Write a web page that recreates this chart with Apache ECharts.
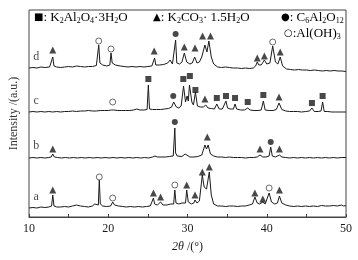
<!DOCTYPE html>
<html>
<head>
<meta charset="utf-8">
<script src="https://cdn.jsdelivr.net/npm/echarts@6/dist/echarts.min.js"></script>
</head>
<body style="margin:0">
<div id="main" style="width:358px;height:260px"></div>
<script>
// XRD patterns, values (offset stacked intensity, arbitrary units)
var curveA = [[10,9],[10.5,9.5],[11,9],[11.5,10],[12,9.5],[12.5,10],[12.85,11],[13,22],[13.15,11],[13.5,10],[14,10],[14.5,10.5],[15,10],[15.5,11],[16,12],[16.5,11],[17,10.5],[17.5,10],[18,11],[18.3,13],[18.5,11],[18.75,12],[18.87,37],[19,13],[19.3,11],[19.8,10.5],[20.3,11],[20.56,15],[20.8,12],[21.3,11],[21.8,10.5],[22.3,10],[22.8,10.5],[23.3,10],[23.8,10.5],[24.3,10],[24.8,10.5],[25.3,11],[25.55,12],[25.7,19],[25.85,13],[26.2,12],[26.6,15],[26.9,12],[27.4,12],[27.9,13],[28.25,13],[28.4,27],[28.55,14],[28.9,13],[29.3,14],[29.75,14],[29.9,27],[30.1,15],[30.5,13],[30.8,14],[30.95,17],[31.2,14],[31.5,16],[31.87,42],[32.1,30],[32.4,28],[32.75,45],[33,22],[33.3,13],[33.8,11],[34.3,11],[34.8,10.5],[35.3,11],[35.8,11],[36.3,10.5],[36.8,11],[37.3,11],[37.8,12],[38.2,13],[38.5,20],[38.8,14],[39.1,13],[39.5,15],[39.8,13],[40.05,14],[40.3,24],[40.6,15],[41,13],[41.35,14],[41.6,21],[41.9,14],[42.4,12],[42.9,11],[43.4,10.5],[43.9,11],[44.4,10.5],[44.9,11],[45.4,10.5],[45.9,11],[46.4,10.5],[46.9,11.5],[47.4,11],[47.9,11],[48.4,11.5],[48.9,11],[49.4,12],[49.7,11],[50,11.5]];
var curveB = [[10,59],[10.5,59.5],[11,59],[11.5,59.5],[12,59],[12.5,59.5],[12.8,60],[13,63],[13.2,60],[13.6,59.5],[14.1,59],[14.6,59.5],[15.1,59],[15.6,59.5],[16.1,59],[16.6,59.5],[17.1,59],[17.6,59.5],[18.1,59],[18.6,59.5],[19.1,59],[19.6,59.5],[20.1,59],[20.6,59.5],[21.1,59],[21.6,59.5],[22.1,59],[22.6,59.5],[23.1,59],[23.6,59.5],[24.1,59],[24.6,59.5],[25.1,59],[25.6,60],[25.9,61],[26.2,60],[26.7,60],[27.2,60],[27.7,60.5],[28.2,61],[28.3,63],[28.4,89],[28.5,64],[28.7,61],[29.3,60.5],[29.55,61],[29.7,63],[29.85,61],[30.3,60],[30.8,60],[31.3,60.5],[31.8,62],[32.2,72],[32.4,68],[32.6,72],[32.9,63],[33.3,61],[33.8,60],[34.3,60],[34.8,59.5],[35.3,60],[35.8,59.5],[36.3,59.5],[36.8,59.5],[37.3,59],[37.8,59.5],[38.3,59.5],[38.8,60],[39.15,62],[39.5,60],[39.9,60],[40.3,61],[40.5,70],[40.7,61],[41.1,60],[41.6,62],[41.9,60],[42.4,59.5],[42.9,59],[43.4,59.5],[43.9,59],[44.4,59.5],[44.9,59],[45.4,59.5],[45.9,59],[46.4,59.5],[46.9,59],[47.4,59.5],[47.9,59],[48.4,59.5],[48.9,59],[49.4,59.5],[50,59.5]];
var curveC = [[10,105],[10.5,105.5],[11,105],[11.5,105.5],[12,105],[12.5,105.5],[13,105],[13.5,105.5],[14,105],[14.5,105.5],[15,105.5],[15.5,106],[16,105.5],[16.5,106],[17,106],[17.5,106.5],[18,106],[18.5,106],[19,106.5],[19.5,106.5],[20,106.5],[20.4,107],[20.56,109],[20.7,107],[21.2,106.5],[21.7,106.5],[22.2,106.5],[22.7,106.5],[23.2,107],[23.6,108],[24,107],[24.5,107],[24.9,107.5],[25.06,132],[25.2,108],[25.6,107.5],[26.1,107.5],[26.6,107.5],[27.1,108],[27.6,108.5],[28,110],[28.25,115],[28.6,110],[28.9,109],[29.2,111],[29.5,131],[29.75,115],[29.95,121],[30.1,116],[30.25,132],[30.55,115],[30.75,112],[31.0,125],[31.25,111],[31.6,110],[32,110],[32.3,112],[32.6,109],[33,108.5],[33.4,108],[33.7,113],[34,108],[34.4,108],[34.65,110],[34.85,116],[35.05,109],[35.4,108],[35.8,108],[36.0,113],[36.2,108],[36.7,107],[37.2,107],[37.6,109],[37.9,107],[38.4,106.5],[38.9,106.5],[39.3,107],[39.57,116],[39.8,107],[40.3,106.5],[40.8,106.5],[41.2,107.5],[41.55,114],[41.9,107.5],[42.4,106],[42.9,105.5],[43.4,105.5],[43.9,105.5],[44.4,105],[44.9,105.5],[45.4,106],[45.7,109],[46,105.5],[46.5,105.5],[46.85,106],[47.05,115],[47.25,105.5],[47.7,105.5],[48.2,105],[48.7,105],[49.2,105],[49.6,105],[50,105]];
var curveD = [[10,149],[10.5,149.5],[11,149],[11.5,150],[12,149.5],[12.6,150],[12.85,151],[13.0,160],[13.15,151],[13.5,150],[14,149.5],[14.5,150],[15,150.5],[15.5,150],[16,151],[16.5,150.5],[17,150],[17.5,150.5],[18,150.5],[18.5,151.5],[18.7,153],[18.8,172],[18.95,154],[19.3,152],[19.8,151],[20.2,152],[20.35,164],[20.5,154],[20.9,152],[21.5,151],[22,150.5],[22.5,150],[23,150.5],[23.5,150],[24,150.5],[24.5,150],[25,150.5],[25.5,151],[25.7,152],[25.85,159],[26,152],[26.5,152],[27,152.5],[27.5,154],[27.8,157],[28.1,153],[28.35,153],[28.5,177],[28.65,154],[29,153],[29.3,155],[29.6,164],[29.9,155],[30.3,153],[30.6,154],[30.9,160],[31.2,154],[31.5,155],[31.8,160],[32.2,172],[32.45,165],[32.7,176],[33.0,160],[33.3,153],[33.8,150],[34.3,149.5],[34.8,150],[35,151.5],[35.3,149.5],[35.8,149],[36.3,149],[36.8,148.5],[37.3,149],[37.8,148.5],[38.3,149],[38.6,151],[38.8,155],[39.0,152],[39.3,152],[39.7,157],[40,153],[40.4,154],[40.75,171],[41.1,155],[41.4,153],[41.7,160],[42,151],[42.5,148],[43,147.5],[43.5,147],[44,147.5],[44.5,147],[45,147],[45.5,146.5],[46,147],[46.5,146.5],[47,146],[47.5,146.5],[48,146],[48.5,146.5],[49,146],[49.5,146],[50,145.5]];

// phase markers above the peaks
var squares = [[25.06,138],[29.47,138],[30.3,141],[31.0,127],[33.7,119],[34.86,121],[36.0,119],[37.6,115],[39.57,122],[45.7,114],[47.05,121]];
var triangles = [[13.0,27],[25.7,24],[26.6,20],[29.9,32],[30.95,22],[31.87,45],[32.75,50],[38.5,24],[39.5,18],[41.6,27],
  [13.0,68],[32.5,80],[39.15,68],[41.6,68],
  [32.2,118],[41.55,120],
  [13.0,167],[25.8,166],[29.6,170],[30.95,169],[31.9,181],[32.9,181],[38.8,159],[39.7,161],[41.7,165]];
var dots = [[40.5,75],[28.4,95],[28.2,121],[28.5,183]];
var rings = [[18.87,40],[20.56,19],[28.4,32],[40.3,29],[20.56,115],[18.8,176],[20.35,168],[40.75,175]];
var sampleNames = ['a', 'b', 'c', 'd'];
var sampleLabelY = [20, 71, 116, 160];

var serif = '"Liberation Serif", "Times New Roman", serif';
var ink = '#1a1a1a';

var chart = echarts.init(document.getElementById('main'));

var lineSeries = [curveA, curveB, curveC, curveD].map(function (d) {
  return {
    type: 'line', data: d, symbol: 'none', silent: true,
    lineStyle: { color: ink, width: 1 }
  };
});

function markers(data, symbol, size, fill) {
  return {
    type: 'scatter', data: data, symbol: symbol, symbolSize: size, silent: true, z: 5,
    itemStyle: { color: fill, borderColor: ink, borderWidth: fill === '#fff' ? 0.8 : 0 }
  };
}

var subStyle = { fontSize: 8, fontFamily: serif, color: ink, verticalAlign: 'bottom', padding: [0, 0, -1, 0] };
var mainStyle = { fontSize: 13, fontFamily: serif, color: ink };
var symStyle = { fontSize: 10, fontFamily: '"DejaVu Sans"', color: ink };

chart.setOption({
  animation: false,
  grid: { left: 29, right: 12, top: 10, bottom: 43, show: true, borderColor: '#444', borderWidth: 1 },
  xAxis: {
    type: 'value', min: 10, max: 50, interval: 5,
    name: '{i|2θ} /(°)', nameLocation: 'middle', nameGap: 24,
    nameTextStyle: {
      fontFamily: serif, fontSize: 12, color: ink,
      rich: { i: { fontFamily: serif, fontSize: 12, fontStyle: 'italic', color: ink } }
    },
    axisLine: { lineStyle: { color: '#444' } },
    axisTick: { inside: true, length: 3, lineStyle: { color: '#444' } },
    axisLabel: {
      fontFamily: serif, fontSize: 12, color: ink, margin: 6,
      formatter: function (v) { return v % 10 === 0 ? String(v) : ''; }
    },
    splitLine: { show: false }
  },
  yAxis: {
    type: 'value', min: 0, max: 207,
    name: 'Intensity /(a.u.)', nameLocation: 'middle', nameGap: 9,
    nameTextStyle: { fontFamily: serif, fontSize: 12, color: '#333' },
    axisLine: { show: false }, axisTick: { show: false }, axisLabel: { show: false },
    splitLine: { show: false }
  },
  graphic: [
    { type: 'text', left: 34, top: 11, style: {
      text: '{s|■}{m|: K}{b|2}{m|Al}{b|2}{m|O}{b|4}{m|·3H}{b|2}{m|O}',
      rich: { s: symStyle, m: mainStyle, b: subStyle } } },
    { type: 'text', left: 153, top: 11, style: {
      text: '{s|▲}{m|: K}{b|2}{m|CO}{b|3}{m|· 1.5H}{b|2}{m|O}',
      rich: { s: symStyle, m: mainStyle, b: subStyle } } },
    { type: 'text', left: 281, top: 11, style: {
      text: '{s|●}{m|: C}{b|6}{m|Al}{b|2}{m|O}{b|12}',
      rich: { s: symStyle, m: mainStyle, b: subStyle } } },
    { type: 'text', left: 284, top: 27, style: {
      text: '{s|○}{m|:Al(OH)}{b|3}',
      rich: { s: symStyle, m: mainStyle, b: subStyle } } }
  ],
  series: lineSeries.concat([
    markers(squares, 'rect', 6, ink),
    markers(triangles, 'triangle', 7, ink),
    markers(dots, 'circle', 6, ink),
    markers(rings, 'circle', 6, '#fff'),
    {
      type: 'scatter', symbol: 'circle', symbolSize: 2, silent: true, z: 6,
      itemStyle: { color: 'rgba(0,0,0,0)' },
      data: sampleNames.map(function (n, i) { return { value: [10.9, sampleLabelY[i]], name: n }; }),
      label: { show: true, position: 'inside', formatter: '{b}', fontFamily: serif, fontSize: 12, color: ink }
    }
  ])
});
</script>
</body>
</html>
